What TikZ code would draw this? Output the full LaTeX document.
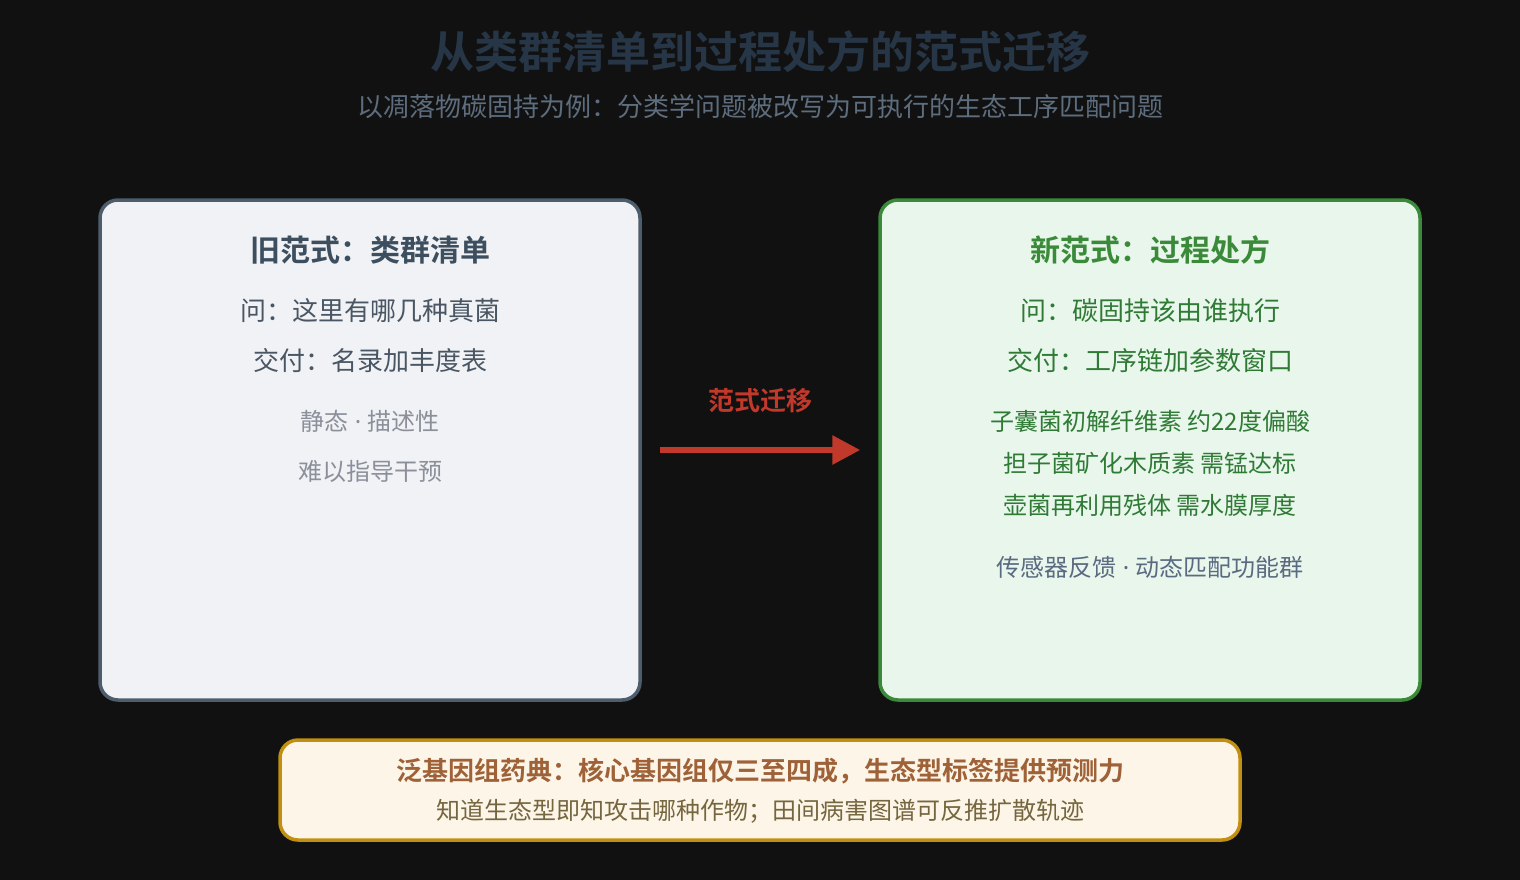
\documentclass[tikz,border=0pt]{standalone}
\usepackage{fontspec}
\setmainfont{Noto Sans CJK SC}[BoldFont={Noto Sans CJK SC Bold}]
\newfontfamily\latinfont{Noto Sans}
\usetikzlibrary{arrows.meta,positioning}

\definecolor{bgdark}{HTML}{111111}
\definecolor{titleink}{HTML}{263646}
\definecolor{subink}{HTML}{5D6D7E}
\definecolor{oldline}{HTML}{4E5D6C}
\definecolor{oldfill}{HTML}{F0F2F5}
\definecolor{oldhead}{HTML}{3D4F5F}
\definecolor{oldink}{HTML}{4A5663}
\definecolor{greyink}{HTML}{8A8F99}
\definecolor{newline}{HTML}{3A8A3A}
\definecolor{newfill}{HTML}{E8F6EC}
\definecolor{newink}{HTML}{2F7A35}
\definecolor{sensorink}{HTML}{5A6A80}
\definecolor{noteline}{HTML}{C29010}
\definecolor{notefill}{HTML}{FDF6E8}
\definecolor{notehead}{HTML}{9E6138}
\definecolor{noteink}{HTML}{75663F}
\definecolor{shiftred}{HTML}{C0392B}

\newcommand{\fs}[1]{\fontsize{#1}{#1}\selectfont}
\newcommand{\middot}{{\latinfont\ ·\ }}

\tikzset{
    panel/.style={draw, line width=3.5pt, rounded corners=18pt, inner sep=0pt},
    txt/.style={inner sep=0pt, anchor=center},
    shiftarrow/.style={draw=shiftred, line width=6pt,
        -{Triangle[length=28pt,width=28pt]}, shorten <=18pt, shorten >=18pt}
}

\begin{document}
\begin{tikzpicture}[x=1pt,y=-1pt]
    \fill[bgdark] (0,0) rectangle (1520,880);
    \useasboundingbox (0,0) rectangle (1520,880);

    % heading
    \node[txt, font=\fs{44}\bfseries, text=titleink] (title) at (760,52) {从类群清单到过程处方的范式迁移};
    \node[txt, font=\fs{26}, text=subink] (subtitle) at (760,107) {以凋落物碳固持为例：分类学问题被改写为可执行的生态工序匹配问题};

    % the two panels
    \node[panel, draw=oldline, fill=oldfill, minimum width=540pt, minimum height=500pt] (oldbox) at (370,450) {};
    \node[panel, draw=newline, fill=newfill, minimum width=540pt, minimum height=500pt] (newbox) at (1150,450) {};

    % old paradigm
    \node[txt, font=\fs{30}\bfseries, text=oldhead] (oldtitle) at (370,250) {旧范式：类群清单};
    \node[txt, font=\fs{26}, text=oldink] (oldask) at (370,311) {问：这里有哪几种真菌};
    \node[txt, font=\fs{26}, text=oldink] (oldgive) at (370,361) {交付：名录加丰度表};
    \node[txt, font=\fs{24}, text=greyink] (oldstatic) at (370,421) {静态\middot 描述性};
    \node[txt, font=\fs{24}, text=greyink] (oldhard) at (370,471) {难以指导干预};

    % new paradigm
    \node[txt, font=\fs{30}\bfseries, text=newline] (newtitle) at (1150,250) {新范式：过程处方};
    \node[txt, font=\fs{26}, text=newink] (newask) at (1150,311) {问：碳固持该由谁执行};
    \node[txt, font=\fs{26}, text=newink] (newgive) at (1150,361) {交付：工序链加参数窗口};
    \node[txt, font=\fs{24}, text=newink] (stepA) at (1150,421) {子囊菌初解纤维素 约22度偏酸};
    \node[txt, font=\fs{24}, text=newink] (stepB) at (1150,463) {担子菌矿化木质素 需锰达标};
    \node[txt, font=\fs{24}, text=newink] (stepC) at (1150,505) {壶菌再利用残体 需水膜厚度};
    \node[txt, font=\fs{24}, text=sensorink] (sensor) at (1150,567) {传感器反馈\middot 动态匹配功能群};

    % shift
    \draw[shiftarrow] (oldbox) -- (newbox);
    \node[txt, font=\fs{26}\bfseries, text=shiftred] (shiftlabel) at (760,401) {范式迁移};

    % pangenome note
    \node[panel, draw=noteline, fill=notefill, minimum width=960pt, minimum height=100pt] (notebox) at (760,790) {};
    \node[txt, font=\fs{26}\bfseries, text=notehead] (notehead) at (760,771) {泛基因组药典：核心基因组仅三至四成，生态型标签提供预测力};
    \node[txt, font=\fs{24}, text=noteink] (notetext) at (760,811) {知道生态型即知攻击哪种作物；田间病害图谱可反推扩散轨迹};
\end{tikzpicture}
\end{document}
